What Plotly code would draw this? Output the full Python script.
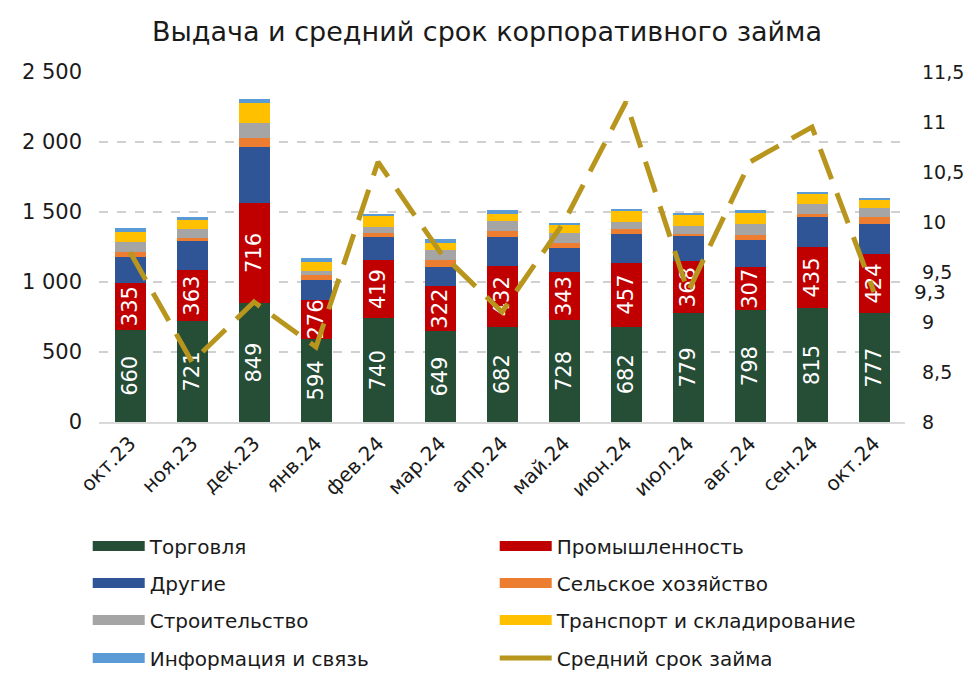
import plotly.graph_objects as go

months = ["окт.23", "ноя.23", "дек.23", "янв.24", "фев.24", "мар.24", "апр.24",
          "май.24", "июн.24", "июл.24", "авг.24", "сен.24", "окт.24"]

trade = [660, 721, 849, 594, 740, 649, 682, 728, 682, 779, 798, 815, 777]
industry = [335, 363, 716, 276, 419, 322, 432, 343, 457, 368, 307, 435, 424]
other = [186, 209, 402, 144, 165, 138, 210, 169, 204, 182, 195, 217, 213]
agri = [35, 24, 59, 34, 24, 48, 43, 36, 36, 14, 36, 19, 53]
construction = [67, 62, 112, 33, 47, 72, 71, 72, 52, 59, 78, 71, 59]
transport = [76, 64, 143, 64, 76, 47, 48, 66, 83, 77, 81, 69, 65]
info = [29, 24, 26, 24, 15, 31, 28, 5, 10, 16, 19, 15, 11]
avg_term = [9.7, 8.6, 9.2, 8.75, 10.6, 9.7, 9.1, 10.0, 11.2, 9.3, 10.6, 10.95, 9.3]

series = [
    ("Торговля", trade, "#264D36", True),
    ("Промышленность", industry, "#C00000", True),
    ("Другие", other, "#2F5597", False),
    ("Сельское хозяйство", agri, "#ED7D31", False),
    ("Строительство", construction, "#A5A5A5", False),
    ("Транспорт и складирование", transport, "#FFC000", False),
    ("Информация и связь", info, "#5B9BD5", False),
]
LINE_NAME = "Средний срок займа"
LINE_COLOR = "#B8961E"

# page has an 8px body margin; figure sized so that it fits the 974x686 window
W, H = 958, 670
PL, PR, PT, PB = 91, 897, 64, 414  # plot area in figure pixels

FONT = "DejaVu Sans"
TXT = "#1a1a1a"
fig = go.Figure()
for name, vals, color, lab in series:
    fig.add_trace(go.Bar(
        x=months, y=vals, name=name, marker_color=color, marker_line_width=0,
        text=[str(v) for v in vals] if lab else None,
        textposition="inside" if lab else "none",
        textangle=-90, insidetextanchor="middle", constraintext="none",
        textfont=dict(color="white", size=21, family=FONT),
        showlegend=False,
    ))

fig.add_trace(go.Scatter(
    x=months, y=avg_term, name=LINE_NAME, yaxis="y2",
    mode="lines",
    line=dict(color=LINE_COLOR, width=5, dash="32px,15px"),
    showlegend=False,
))

fig.add_annotation(
    x=months[-1], y=avg_term[-1], xref="x", yref="y2",
    text=f"{avg_term[-1]:.1f}".replace(".", ","), showarrow=False,
    xanchor="left", yanchor="middle", xshift=38,
    font=dict(size=20, color=TXT, family=FONT),
)

# legend entries: 4 rows x 2 columns, as in the reference
legend_items = [(n, c, "bar") for n, _, c, _ in series] + [(LINE_NAME, LINE_COLOR, "line")]
legend_keys = ["legend", "legend2", "legend3", "legend4"]
for i, (name, color, kind) in enumerate(legend_items):
    fig.add_trace(go.Scatter(
        x=[None], y=[None], name=name, mode="lines",
        line=dict(color=color, width=12 if kind == "bar" else 5),
        legend=legend_keys[i // 2], showlegend=True, hoverinfo="skip",
    ))

row_y = [538, 575, 612, 650]
legend_layout = {}
for k, ry in zip(legend_keys, row_y):
    legend_layout[k] = dict(
        orientation="h", x=-0.014, xanchor="left",
        y=(PB - ry) / (PB - PT), yanchor="middle",
        entrywidth=340, entrywidthmode="pixels", itemwidth=52,
        font=dict(size=20, family=FONT, color=TXT), traceorder="normal",
        bgcolor="rgba(0,0,0,0)",
    )

fig.update_layout(
    width=W, height=H,
    barmode="stack", bargap=0.5,
    separators=", ",
    paper_bgcolor="white", plot_bgcolor="white",
    font=dict(family=FONT, size=21, color=TXT),
    title=dict(text="Выдача и средний срок корпоративного займа",
               x=0.5, xanchor="center", y=1 - 24 / H, yanchor="middle",
               font=dict(size=27, family=FONT, color=TXT)),
    margin=dict(l=PL, r=W - PR, t=PT, b=H - PB, autoexpand=False),
    xaxis=dict(tickangle=-45, tickfont=dict(size=20), showgrid=False,
               range=[-0.5, len(months) - 0.5],
               showline=True, linecolor="#D9D9D9", linewidth=1.5),
    yaxis=dict(range=[0, 2500], dtick=500, tickformat=",d",
               showgrid=True, gridcolor="#D0D0D0", griddash="dash", gridwidth=1.5,
               zeroline=False, tickfont=dict(size=21), ticklabelstandoff=16),
    yaxis2=dict(range=[8, 11.5], dtick=0.5, overlaying="y", side="right",
                showgrid=False, zeroline=False, tickfont=dict(size=19),
                ticklabelstandoff=16),
    **legend_layout,
)

fig.write_html("out.html")
